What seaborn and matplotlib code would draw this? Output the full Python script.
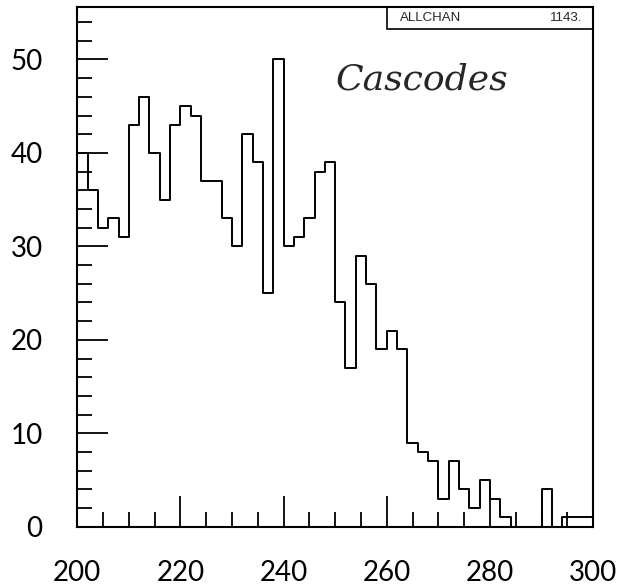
import numpy as np
import pandas as pd
import seaborn as sns
import matplotlib.pyplot as plt
from matplotlib.ticker import MultipleLocator

# bin edges 200..300 in steps of 2, one count per bin (ALLCHAN total 1143)
bin_lo = list(range(200, 300, 2))
counts = [40, 36, 32, 33, 31, 43, 46, 40, 35, 43,
          45, 44, 37, 37, 33, 30, 42, 39, 25, 50,
          30, 31, 33, 38, 39, 24, 17, 29, 26, 19,
          21, 19, 9, 8, 7, 3, 7, 4, 2, 5,
          3, 1, 0, 0, 0, 4, 0, 1, 1, 1]
x_ticks = [200, 220, 240, 260, 280, 300]
y_ticks = [0, 10, 20, 30, 40, 50]
label = "Cascodes"
stat_name = "ALLCHAN"
stat_value = "1143."

df = pd.DataFrame({"x": [b + 1 for b in bin_lo], "n": counts})
edges = bin_lo + [300]

sns.set_style("ticks")
plt.rcParams['font.family'] = ['Lato', 'DejaVu Sans']

fig = plt.figure(figsize=(6.23, 5.88), dpi=100)
ax = fig.add_axes([0.124, 0.104, 0.828, 0.884])

sns.histplot(data=df, x="x", weights="n", bins=edges, element="step",
             fill=False, color="black", linewidth=1.4, ax=ax)

ax.set_xlim(200, 300)
ax.set_ylim(0, 55.6)
ax.set_xticks(x_ticks)
ax.set_yticks(y_ticks)
ax.xaxis.set_minor_locator(MultipleLocator(5))
ax.yaxis.set_minor_locator(MultipleLocator(2))
ax.tick_params(which="major", direction="in", length=22, width=1.3,
               labelsize=20, labelcolor="black", top=False, right=False,
               color="black")
ax.tick_params(which="minor", direction="in", length=11, width=1.3,
               top=False, right=False, color="black")
ax.tick_params(axis="x", pad=24)
ax.tick_params(axis="y", pad=25)
for sp in ax.spines.values():
    sp.set_linewidth(1.5)
    sp.set_color("black")
ax.set_xlabel("")
ax.set_ylabel("")

# statistics box in top-right corner
ax.add_patch(plt.Rectangle((0.6, 0.958), 0.4, 0.042, transform=ax.transAxes,
                           fill=False, edgecolor="black", linewidth=1.2,
                           clip_on=False))
ax.text(0.625, 0.979, stat_name, transform=ax.transAxes, fontsize=9.5,
        va="center", ha="left", family=["Liberation Sans"])
ax.text(0.98, 0.979, stat_value, transform=ax.transAxes, fontsize=9.5,
        va="center", ha="right", family=["Liberation Sans"])

# handwritten annotation
ax.text(0.5, 0.86, label, transform=ax.transAxes, fontsize=26,
        fontstyle="italic", family=["DejaVu Serif"], va="center", ha="left")

fig.savefig("out.png", dpi=100)
